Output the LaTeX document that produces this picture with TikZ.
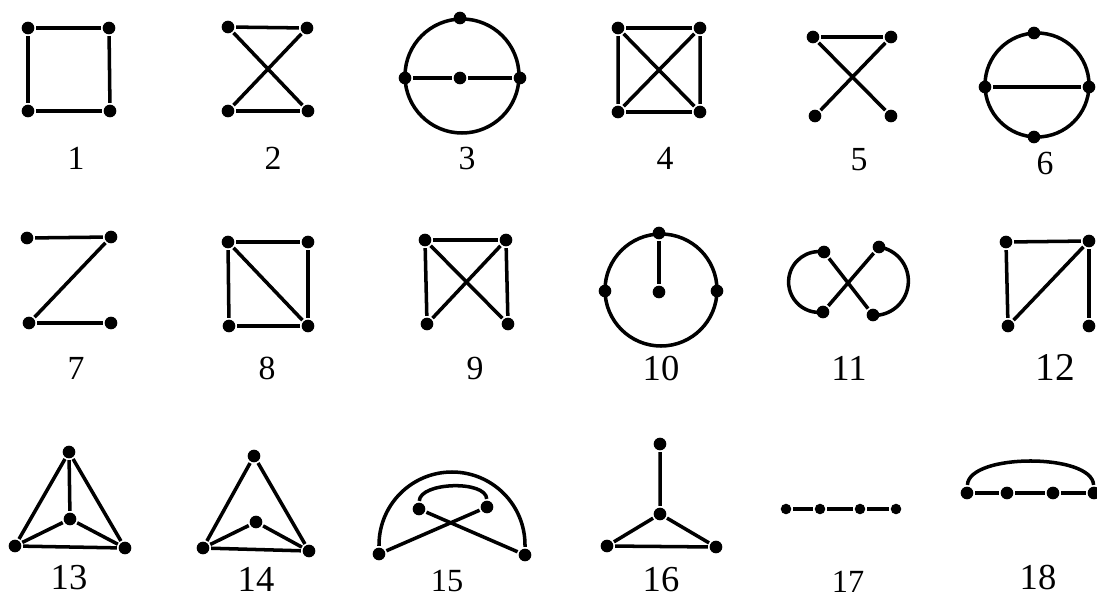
\documentclass[tikz,border=0pt]{standalone}
\usepackage{fontspec}
\setmainfont{Liberation Serif}
\tikzset{
  vtx/.style={circle,fill=black,inner sep=0pt,minimum size=9pt},
  svtx/.style={vtx,minimum size=7.5pt},
  lbl/.style={inner sep=0pt,font=\fontsize{#1}{#1}\selectfont},
  lbl/.default=24,
}
\begin{document}
\begin{tikzpicture}[x=0.025cm,y=-0.025cm,line width=2.5pt]
	\useasboundingbox (0,0) rectangle (1097,598);
	
	% Row 1
	\node[vtx] (g1a) at (28,28) {};
	\node[vtx] (g1b) at (109,28) {};
	\node[vtx] (g1c) at (28,111) {};
	\node[vtx] (g1d) at (110,111) {};
	\draw (g1a) -- (g1b) -- (g1d) -- (g1c) -- (g1a);
	\node[lbl] (l1) at (76,158) {1};
	
	\node[vtx] (g2a) at (228,27) {};
	\node[vtx] (g2b) at (307,28) {};
	\node[vtx] (g2c) at (228,111) {};
	\node[vtx] (g2d) at (308,111) {};
	\draw (g2b) -- (g2a) -- (g2d) -- (g2c) -- (g2b);
	\node[lbl] (l2) at (273,158) {2};
	
	\coordinate (c3) at (462,76);
	\draw (c3) circle[radius=57];
	\node[vtx] (g3a) at (405,78) {};
	\node[vtx] (g3b) at (460,78) {};
	\node[vtx] (g3c) at (520,78) {};
	\node[vtx] (g3d) at (460,18) {};
	\draw (g3a) -- (g3b) -- (g3c);
	\node[lbl] (l3) at (467,158) {3};
	
	\node[vtx] (g4a) at (618,28) {};
	\node[vtx] (g4b) at (700,28) {};
	\node[vtx] (g4c) at (618,112) {};
	\node[vtx] (g4d) at (700,112) {};
	\draw (g4a) -- (g4b) -- (g4d) -- (g4c) -- (g4a) -- (g4d);
	\draw (g4b) -- (g4c);
	\node[lbl] (l4) at (665,158) {4};
	
	\node[vtx] (g5a) at (813,37) {};
	\node[vtx] (g5b) at (891,37) {};
	\node[vtx] (g5c) at (815,116) {};
	\node[vtx] (g5d) at (891,116) {};
	\draw (g5d) -- (g5a) -- (g5b) -- (g5c);
	\node[lbl] (l5) at (859,160) {5};
	
	\coordinate (c6) at (1037,85);
	\draw (c6) circle[radius=52];
	\node[vtx] (g6a) at (985,87) {};
	\node[vtx] (g6b) at (1089,87) {};
	\node[vtx] (g6c) at (1034,33) {};
	\node[vtx] (g6d) at (1034,137) {};
	\draw (g6a) -- (g6b);
	\node[lbl] (l6) at (1045,163) {6};
	
	% Row 2
	\node[vtx] (g7a) at (27,238) {};
	\node[vtx] (g7b) at (111,237) {};
	\node[vtx] (g7c) at (29,323) {};
	\node[vtx] (g7d) at (111,323) {};
	\draw (g7a) -- (g7b) -- (g7c) -- (g7d);
	\node[lbl] (l7) at (76,368) {7};
	
	\node[vtx] (g8a) at (228,242) {};
	\node[vtx] (g8b) at (308,242) {};
	\node[vtx] (g8c) at (229,326) {};
	\node[vtx] (g8d) at (308,326) {};
	\draw (g8a) -- (g8b) -- (g8d) -- (g8c) -- (g8a) -- (g8d);
	\node[lbl] (l8) at (267,368) {8};
	
	\node[vtx] (g9a) at (425,240) {};
	\node[vtx] (g9b) at (506,240) {};
	\node[vtx] (g9c) at (427,324) {};
	\node[vtx] (g9d) at (508,324) {};
	\draw (g9c) -- (g9a) -- (g9b) -- (g9d) -- (g9a);
	\draw (g9b) -- (g9c);
	\node[lbl] (l9) at (475,368) {9};
	
	\coordinate (c10) at (661,290);
	\draw (c10) circle[radius=56];
	\node[vtx] (g10a) at (605,291) {};
	\node[vtx] (g10b) at (717,291) {};
	\node[vtx] (g10c) at (659,233) {};
	\node[vtx] (g10d) at (659,292) {};
	\draw (g10c) -- (g10d);
	\node[lbl=26] (l10) at (661,369) {10};
	
	\node[vtx] (g11a) at (824,252) {};
	\node[vtx] (g11b) at (879,247) {};
	\node[vtx] (g11c) at (823,312) {};
	\node[vtx] (g11d) at (873,315) {};
	\draw (g11a) -- (g11d);
	\draw (g11b) -- (g11c);
	\draw (g11a.center) arc[start angle=-80.5,end angle=-277.6,radius=30.4];
	\draw (g11b.center) arc[start angle=-81.6,end angle=91.7,radius=34.4];
	\node[lbl=26] (l11) at (849,368) {11};
	
	\node[vtx] (g12a) at (1006,242) {};
	\node[vtx] (g12b) at (1089,241) {};
	\node[vtx] (g12c) at (1008,326) {};
	\node[vtx] (g12d) at (1089,326) {};
	\draw (g12c) -- (g12a) -- (g12b) -- (g12c);
	\draw (g12b) -- (g12d);
	\node[lbl=28] (l12) at (1055,367) {12};
	
	% Row 3
	\node[vtx] (g13a) at (69,452) {};
	\node[vtx] (g13b) at (70,519) {};
	\node[vtx] (g13c) at (15,546) {};
	\node[vtx] (g13d) at (125,548) {};
	\draw (g13a) -- (g13c) -- (g13d) -- (g13a) -- (g13b);
	\draw (g13c) -- (g13b) -- (g13d);
	\node[lbl=26] (l13) at (69,578) {13};
	
	\node[vtx] (g14a) at (254,456) {};
	\node[vtx] (g14b) at (256,522) {};
	\node[vtx] (g14c) at (203,548) {};
	\node[vtx] (g14d) at (309,551) {};
	\draw (g14a) -- (g14c) -- (g14d) -- (g14a);
	\draw (g14c) -- (g14b) -- (g14d);
	\node[lbl=26] (l14) at (256,579) {14};
	
	\node[vtx] (g15a) at (379,554) {};
	\node[vtx] (g15b) at (525,555) {};
	\node[vtx] (g15c) at (419,509) {};
	\node[vtx] (g15d) at (487,507) {};
	\draw (g15a) -- (g15d);
	\draw (g15c) -- (g15b);
	\draw (g15a) -- ++(0,-9) arc[start angle=180,end angle=360,radius=73] -- (g15b);
	\draw (g15c) .. controls +(1,-27) and +(-1,-27) .. (g15d);
	\node[lbl=23] (l15) at (447,581) {15};
	
	\node[vtx] (g16a) at (660,444) {};
	\node[vtx] (g16b) at (660,514) {};
	\node[vtx] (g16c) at (607,546) {};
	\node[vtx] (g16d) at (716,547) {};
	\draw (g16a) -- (g16b) -- (g16c) -- (g16d) -- (g16b);
	\node[lbl=26] (l16) at (661,580) {16};
	
	\node[svtx] (g17a) at (786,509) {};
	\node[svtx] (g17b) at (820,509) {};
	\node[svtx] (g17c) at (860,509) {};
	\node[svtx] (g17d) at (896,509) {};
	\draw (g17a) -- (g17b) -- (g17c) -- (g17d);
	\node[lbl=23] (l17) at (848,582) {17};
	
	\node[vtx] (g18a) at (967,493) {};
	\node[vtx] (g18b) at (1007,493) {};
	\node[vtx] (g18c) at (1053,493) {};
	\node[vtx] (g18d) at (1094,493) {};
	\draw (g18a) -- (g18b) -- (g18c) -- (g18d);
	\draw (g18a) .. controls +(2,-40) and +(-2,-40) .. (g18d);
	\node[lbl=26] (l18) at (1038,578) {18};
\end{tikzpicture}
\end{document}
